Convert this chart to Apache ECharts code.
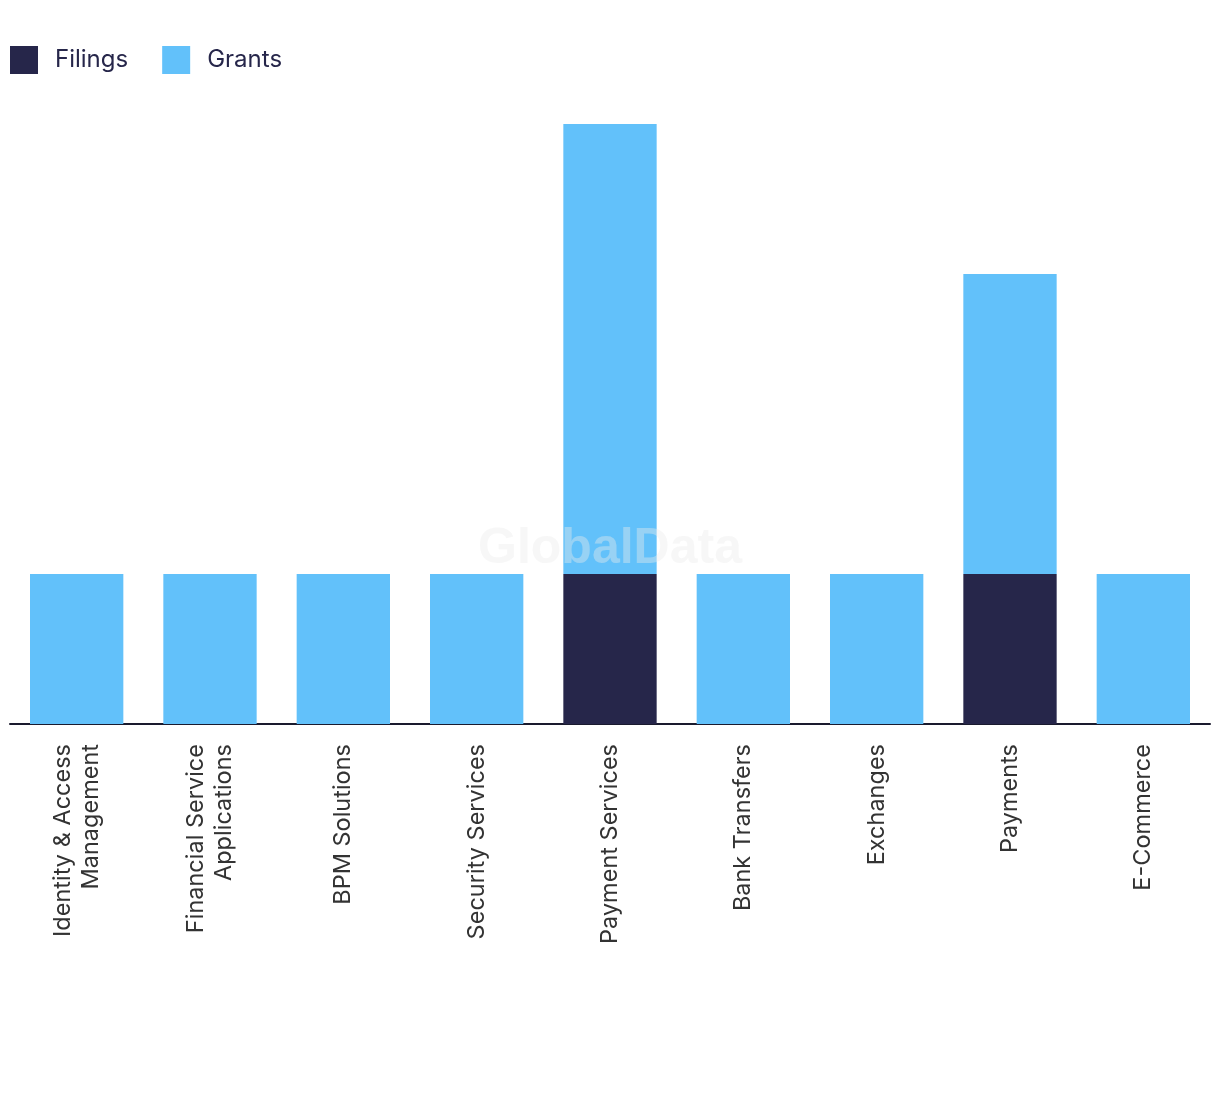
<!DOCTYPE html>
<html><head><meta charset="utf-8">
<script src="https://cdn.jsdelivr.net/npm/echarts@6/dist/echarts.min.js"></script>
<style>html,body{margin:0;padding:0;background:#fff}#c{width:1220px;height:1094px}</style>
</head><body><div id="c"></div>
<script>
const categories = ["Identity & Access\nManagement","Financial Service\nApplications","BPM Solutions","Security Services","Payment Services","Bank Transfers","Exchanges","Payments","E-Commerce"];
const filings = [0,0,0,0,1,0,0,1,0];
const grants = [1,1,1,1,3,1,1,2,1];
const chart = echarts.init(document.getElementById('c'));
chart.setOption({
  animation:false,
  textStyle:{fontFamily:"Inter, 'Liberation Sans', sans-serif"},
  legend:{left:5,top:41,itemWidth:28,itemHeight:28,itemGap:34,icon:'rect',
    textStyle:{fontSize:24,color:'#26264a',padding:[0,0,0,12]},data:['Filings','Grants']},
  graphic:[{type:'text',left:'center',top:524,z:100,style:{text:'GlobalData',fontSize:50,fontWeight:'bold',fill:'rgba(235,235,235,0.4)',fontFamily:"'Liberation Sans', Arial, sans-serif"}}],
  grid:{left:10,right:10,top:124,bottom:370,containLabel:false},
  xAxis:{type:'category',data:categories,
    axisLine:{lineStyle:{color:'#1a1a2e',width:2}},axisTick:{show:false},
    axisLabel:{rotate:90,interval:0,fontSize:23.5,color:'#333',margin:20,lineHeight:28,align:'right',fontFamily:"Inter, 'Liberation Sans', sans-serif"}},
  yAxis:{type:'value',min:0,max:4,show:false,splitLine:{show:false}},
  series:[
    {name:'Filings',type:'bar',stack:'a',data:filings,barWidth:'70%',itemStyle:{color:'#26264a'}},
    {name:'Grants',type:'bar',stack:'a',data:grants,barWidth:'70%',itemStyle:{color:'#62c1fa'}}
  ]
});
</script></body></html>
